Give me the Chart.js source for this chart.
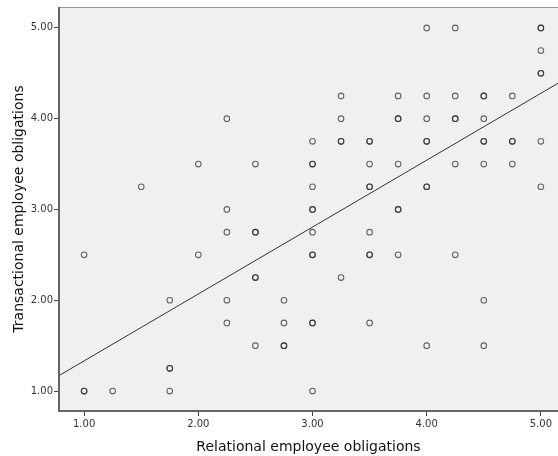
<!DOCTYPE html>
<html>
<head>
<meta charset="utf-8">
<script src="https://cdn.jsdelivr.net/npm/chart.js@4/dist/chart.umd.min.js"></script>
<style>
  body { margin: 0; background: #fff; }
  #wrap { width: 558px; height: 456px; }
</style>
</head>
<body>
<div id="wrap"><canvas id="myChart" width="558" height="456"></canvas></div>
<script>
// observations, read column by column (repeated pairs = overlapping markers)
const relational = [
  1.00, 1.00, 1.00,
  1.25,
  1.50,
  1.75, 1.75, 1.75, 1.75,
  2.00, 2.00,
  2.25, 2.25, 2.25, 2.25, 2.25,
  2.50, 2.50, 2.50, 2.50, 2.50, 2.50,
  2.75, 2.75, 2.75, 2.75,
  3.00, 3.00, 3.00, 3.00, 3.00, 3.00, 3.00, 3.00, 3.00, 3.00, 3.00, 3.00,
  3.25, 3.25, 3.25, 3.25, 3.25,
  3.50, 3.50, 3.50, 3.50, 3.50, 3.50, 3.50, 3.50, 3.50,
  3.75, 3.75, 3.75, 3.75, 3.75, 3.75, 3.75,
  4.00, 4.00, 4.00, 4.00, 4.00, 4.00, 4.00, 4.00,
  4.25, 4.25, 4.25, 4.25, 4.25, 4.25,
  4.50, 4.50, 4.50, 4.50, 4.50, 4.50, 4.50, 4.50,
  4.75, 4.75, 4.75, 4.75,
  5.00, 5.00, 5.00, 5.00, 5.00, 5.00, 5.00
];
const transactional = [
  2.50, 1.00, 1.00,
  1.00,
  3.25,
  2.00, 1.25, 1.25, 1.00,
  3.50, 2.50,
  4.00, 3.00, 2.75, 2.00, 1.75,
  3.50, 2.75, 2.75, 2.25, 2.25, 1.50,
  2.00, 1.75, 1.50, 1.50,
  3.75, 3.50, 3.50, 3.25, 3.00, 3.00, 2.75, 2.50, 2.50, 1.75, 1.75, 1.00,
  4.25, 4.00, 3.75, 3.75, 2.25,
  3.75, 3.75, 3.50, 3.25, 3.25, 2.75, 2.50, 2.50, 1.75,
  4.25, 4.00, 4.00, 3.50, 3.00, 3.00, 2.50,
  5.00, 4.25, 4.00, 3.75, 3.75, 3.25, 3.25, 1.50,
  5.00, 4.25, 4.00, 4.00, 3.50, 2.50,
  4.25, 4.25, 4.00, 3.75, 3.75, 3.50, 2.00, 1.50,
  4.25, 3.75, 3.75, 3.50,
  5.00, 5.00, 4.75, 4.50, 4.50, 3.75, 3.25
];
// fit line end points, as seen at the plot edges
const fitX = [0.78, 5.15];
const fitY = [1.17, 4.39];
const tickValues = [1, 2, 3, 4, 5];

const points = relational.map((x, i) => ({x: x, y: transactional[i]}));
const fitLine = fitX.map((x, i) => ({x: x, y: fitY[i]}));

const plotFrame = {
  id: 'plotFrame',
  beforeDraw(chart) {
    const a = chart.chartArea, c = chart.ctx;
    c.save();
    c.fillStyle = '#f0f0f0';
    c.fillRect(a.left, a.top, a.right - a.left, a.bottom - a.top);
    c.restore();
  },
  afterDraw(chart) {
    const a = chart.chartArea, c = chart.ctx;
    c.save();
    c.strokeStyle = '#9a9a9a';
    c.lineWidth = 1;
    c.beginPath();
    c.moveTo(a.left, a.top + 0.5);
    c.lineTo(a.right, a.top + 0.5);
    c.stroke();
    c.strokeStyle = '#666';
    c.lineWidth = 2;
    c.beginPath();
    c.moveTo(a.left, a.top);
    c.lineTo(a.left, a.bottom);
    c.lineTo(a.right, a.bottom);
    c.stroke();
    c.restore();
  }
};

const tickFont = {family: 'DejaVu Sans', size: 10};
const titleFont = {family: 'DejaVu Sans', size: 14};

const ctx = document.getElementById('myChart').getContext('2d');
const myChart = new Chart(ctx, {
  type: 'scatter',
  data: {
    datasets: [{
      data: points,
      pointRadius: 2.8,
      pointBorderWidth: 1.1,
      borderColor: 'rgba(40,40,40,0.7)',
      backgroundColor: 'rgba(0,0,0,0)',
      order: 2
    }, {
      type: 'line',
      data: fitLine,
      borderColor: '#333',
      borderWidth: 1,
      pointRadius: 0,
      fill: false,
      order: 1
    }]
  },
  options: {
    responsive: false,
    animation: false,
    layout: {autoPadding: false, padding: {top: 7, right: 0, left: 0, bottom: 0}},
    plugins: {legend: {display: false}, tooltip: {enabled: false}},
    scales: {
      x: {
        type: 'linear',
        min: 0.78,
        max: 5.15,
        afterBuildTicks: s => { s.ticks = tickValues.map(v => ({value: v})); },
        afterFit: s => { s.height = 45; s.paddingRight = 0; s.paddingLeft = 0; },
        grid: {display: true, drawOnChartArea: false, drawTicks: true, tickLength: 5, color: '#444'},
        border: {display: false},
        ticks: {font: tickFont, color: '#333', padding: 2, callback: v => Number(v).toFixed(2)},
        title: {display: true, text: 'Relational employee obligations', font: titleFont, color: '#111', padding: {top: 5, bottom: 0}}
      },
      y: {
        type: 'linear',
        min: 0.78,
        max: 5.23,
        afterBuildTicks: s => { s.ticks = tickValues.map(v => ({value: v})); },
        afterFit: s => { s.width = 59; s.paddingTop = 0; s.paddingBottom = 0; },
        grid: {display: true, drawOnChartArea: false, drawTicks: true, tickLength: 5, color: '#444'},
        border: {display: false},
        ticks: {font: tickFont, color: '#333', padding: 1, callback: v => Number(v).toFixed(2)},
        title: {display: true, text: 'Transactional employee obligations', font: titleFont, color: '#111', padding: {top: 11, bottom: 0}}
      }
    }
  },
  plugins: [plotFrame]
});
</script>
</body>
</html>
